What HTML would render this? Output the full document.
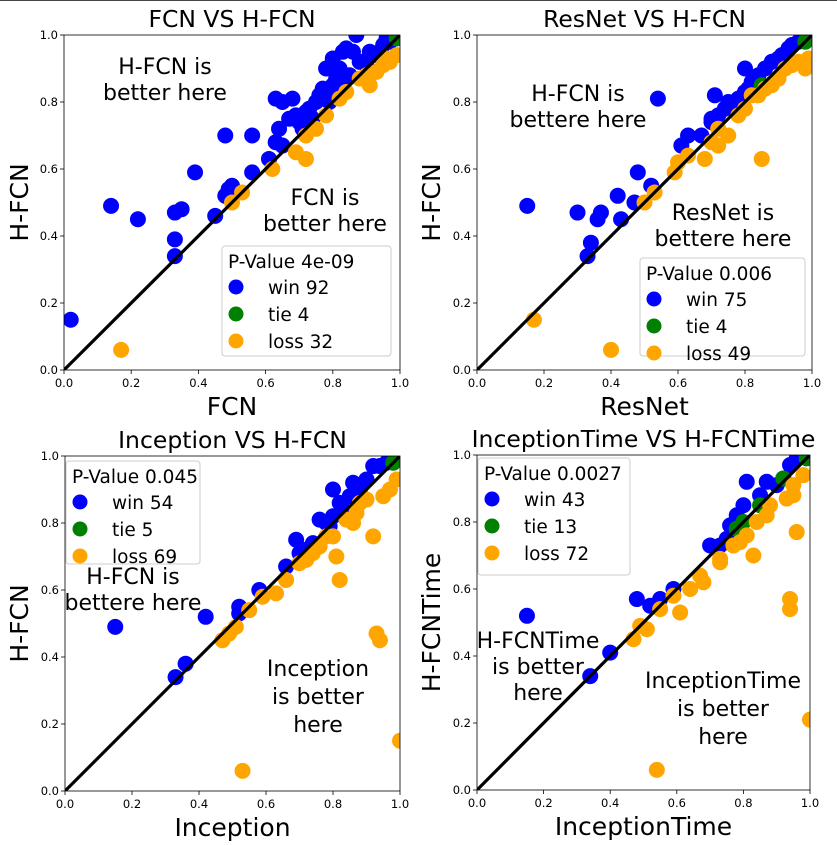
<!DOCTYPE html>
<html><head><meta charset="utf-8"><style>
body{margin:0;background:#fff}
svg{display:block;font-family:"DejaVu Sans","Liberation Sans",sans-serif}
</style></head><body>
<svg id="fig" width="837" height="845" viewBox="0 0 837 845" xmlns="http://www.w3.org/2000/svg"></svg>
<script>
// ---- data: plot 1 FCN vs H-FCN ----
const p1WinX=[0.02,0.14,0.22,0.33,0.33,0.33,0.35,0.39,0.45,0.48,0.49,0.5,0.48,0.56,0.56,0.61,0.63,0.64,0.65,0.63,0.65,0.68,0.67,0.69,0.70,0.71,0.72,0.74,0.75,0.76,0.77,0.78,0.79,0.80,0.78,0.80,0.82,0.83,0.84,0.86,0.87,0.88,0.90,0.91,0.92,0.94,0.95,0.96,0.97,0.98,0.99,0.81,0.83,0.85,0.73];
const p1WinY=[0.15,0.49,0.45,0.39,0.34,0.47,0.48,0.59,0.46,0.52,0.54,0.55,0.70,0.70,0.59,0.63,0.68,0.72,0.67,0.81,0.80,0.81,0.75,0.76,0.74,0.72,0.77,0.75,0.80,0.82,0.84,0.83,0.80,0.85,0.90,0.93,0.90,0.95,0.96,0.95,1.0,0.92,0.91,0.95,0.94,0.95,0.97,0.99,0.98,1.0,0.99,0.87,0.86,0.88,0.78];
const p1LossX=[0.17,0.5,0.53,0.62,0.69,0.72,0.72,0.75,0.78,0.82,0.84,0.88,0.91,0.93,0.95,0.97,0.99,0.90,0.96];
const p1LossY=[0.06,0.5,0.53,0.60,0.65,0.63,0.70,0.72,0.76,0.81,0.83,0.87,0.85,0.89,0.91,0.92,0.94,0.88,0.93];
const p1TieX=[0.99,1.0];
const p1TieY=[0.99,1.0];
// ---- plot 2 ResNet vs H-FCN ----
const p2WinX=[0.15,0.30,0.33,0.34,0.36,0.37,0.42,0.43,0.47,0.48,0.52,0.54,0.61,0.63,0.67,0.70,0.71,0.72,0.74,0.76,0.77,0.78,0.80,0.81,0.82,0.80,0.84,0.86,0.88,0.90,0.91,0.93,0.94,0.96,0.97,0.98,0.70,0.75];
const p2WinY=[0.49,0.47,0.34,0.38,0.45,0.47,0.52,0.45,0.50,0.59,0.55,0.81,0.67,0.70,0.70,0.74,0.82,0.76,0.78,0.79,0.80,0.81,0.83,0.84,0.86,0.90,0.88,0.90,0.92,0.93,0.94,0.96,0.97,0.98,0.99,1.0,0.75,0.80];
const p2LossX=[0.17,0.40,0.50,0.53,0.59,0.60,0.63,0.68,0.70,0.72,0.72,0.75,0.78,0.80,0.85,0.84,0.86,0.88,0.90,0.92,0.94,0.96,0.98,0.99,0.82];
const p2LossY=[0.15,0.06,0.50,0.53,0.59,0.62,0.64,0.63,0.68,0.67,0.72,0.70,0.76,0.78,0.63,0.82,0.84,0.85,0.87,0.90,0.91,0.92,0.90,0.93,0.82];
const p2TieX=[0.85,0.98];
const p2TieY=[0.85,0.98];
// ---- plot 3 Inception vs H-FCN ----
const p3WinX=[0.15,0.33,0.36,0.42,0.52,0.58,0.66,0.69,0.70,0.72,0.74,0.76,0.78,0.80,0.80,0.82,0.83,0.85,0.86,0.88,0.90,0.92,0.94,0.96,0.98,0.79,0.52];
const p3WinY=[0.49,0.34,0.38,0.52,0.55,0.60,0.67,0.75,0.71,0.72,0.74,0.81,0.80,0.82,0.90,0.86,0.84,0.88,0.92,0.90,0.93,0.97,0.97,0.98,1.0,0.79,0.53];
const p3LossX=[0.47,0.49,0.51,0.53,0.55,0.59,0.63,0.66,0.70,0.72,0.74,0.76,0.78,0.80,0.81,0.82,0.86,0.87,0.90,0.92,0.93,0.94,0.95,0.97,0.99,1.0,0.88,0.84];
const p3LossY=[0.45,0.47,0.49,0.06,0.54,0.58,0.59,0.63,0.68,0.69,0.71,0.73,0.76,0.76,0.70,0.63,0.80,0.83,0.87,0.76,0.47,0.45,0.88,0.90,0.93,0.15,0.86,0.81];
const p3TieX=[0.98,0.99];
const p3TieY=[0.98,0.99];
// ---- plot 4 InceptionTime vs H-FCNTime ----
const p4WinX=[0.15,0.40,0.34,0.48,0.52,0.55,0.59,0.70,0.73,0.75,0.76,0.80,0.81,0.85,0.87,0.90,0.94,0.96,0.78,0.92];
const p4WinY=[0.52,0.41,0.34,0.57,0.55,0.57,0.60,0.73,0.73,0.75,0.79,0.85,0.92,0.88,0.92,0.91,0.97,0.99,0.82,0.93];
const p4LossX=[0.47,0.49,0.51,0.55,0.59,0.61,0.64,0.67,0.68,0.73,0.73,0.77,0.79,0.83,0.81,0.84,0.87,0.88,0.93,0.95,0.96,0.94,0.94,1.0,0.54,0.98,0.95];
const p4LossY=[0.45,0.49,0.48,0.54,0.58,0.53,0.60,0.64,0.62,0.69,0.68,0.73,0.74,0.70,0.76,0.80,0.82,0.85,0.87,0.88,0.77,0.57,0.54,0.21,0.06,0.94,0.91];
const p4TieX=[0.78,0.80,0.85,0.92,0.99];
const p4TieY=[0.78,0.80,0.85,0.93,0.99];
const tickLabels=["0.0","0.2","0.4","0.6","0.8","1.0"];
const tickValues=[0,0.2,0.4,0.6,0.8,1.0];

const NS="http://www.w3.org/2000/svg";
const fig=document.getElementById('fig');
function mk(tag,attrs,parent,txt){const e=document.createElementNS(NS,tag);for(const k in attrs)e.setAttribute(k,attrs[k]);if(txt!==undefined)e.textContent=txt;(parent||fig).appendChild(e);return e;}

mk('line',{x1:0,x2:837,y1:0.5,y2:0.5,stroke:'#444','stroke-width':1});

function plot(cfg){
  const g=mk('g',{});
  
  
  const L=cfg.x0,R=cfg.x1,T=cfg.y0,B=cfg.y1;
  const sx=v=>L+v*(R-L), sy=v=>B-v*(B-T);
  const t=mk('text',{x:(L+R)/2,y:T-8,'text-anchor':'middle','font-size':23.5},g,cfg.title);
  
  tickValues.forEach((v,i)=>{
    mk('line',{x1:sx(v),x2:sx(v),y1:B,y2:B+4,stroke:'#000','stroke-width':0.8},g);
    const xt=mk('text',{x:sx(v),y:B+17,'text-anchor':'middle','font-size':11.5},g,tickLabels[i]);
    
    mk('line',{x1:L-4,x2:L,y1:sy(v),y2:sy(v),stroke:'#000','stroke-width':0.8},g);
    const yt=mk('text',{x:L-6,y:sy(v)+4,'text-anchor':'end','font-size':11.5},g,tickLabels[i]);
    
  });
  const xl=mk('text',{x:(L+R)/2,y:B+45,'text-anchor':'middle','font-size':25},g,cfg.xlabel);
  
  const yc=(T+B)/2;
  const yl=mk('text',{x:cfg.ylx,y:yc,'text-anchor':'middle','font-size':25,transform:`rotate(-90 ${cfg.ylx} ${yc})`},g,cfg.ylabel);
  
  const cid='c'+cfg.name;
  const cp=mk('clipPath',{id:cid},g);mk('rect',{x:L,y:T,width:R-L,height:B-T},cp);
  const pg=mk('g',{'clip-path':`url(#${cid})`},g);
  const series=[[cfg.winX,cfg.winY,'#0000ff','win-point'],[cfg.tieX,cfg.tieY,'#008000','tie-point'],[cfg.lossX,cfg.lossY,'#ffa500','loss-point']];
  series.forEach(s=>{
    s[0].forEach((xv,i)=>{
      const c=mk('circle',{cx:sx(xv),cy:sy(s[1][i]),r:8,fill:s[2]},pg);
      
      
    });
  });
  const dl=mk('line',{x1:sx(0),y1:sy(0),x2:sx(1),y2:sy(1),stroke:'#000','stroke-width':3.2},pg);
  
  mk('rect',{x:L,y:T,width:R-L,height:B-T,fill:'none',stroke:'#000','stroke-width':0.8},g);
  cfg.notes.forEach(n=>{
    n.lines.forEach((ln,i)=>{
      const a=mk('text',{x:n.x,y:n.y+i*n.dy,'text-anchor':'middle','font-size':22},g,ln);
      
    });
  });
  const lg=cfg.leg;
  const lgg=mk('g',{},g);
  
  mk('rect',{x:lg.x,y:lg.y,width:lg.w,height:lg.h,rx:3,fill:'#fff','fill-opacity':0.85,stroke:'#ccc'},lgg);
  mk('text',{x:lg.x+6,y:lg.y+22,'font-size':18.5},lgg,lg.title);
  const ent=[['#0000ff',lg.win],['#008000',lg.tie],['#ffa500',lg.loss]];
  ent.forEach((e,i)=>{
    const cy=lg.y+41+i*27;
    const c=mk('circle',{cx:lg.x+14,cy:cy,r:7.5,fill:e[0]},lgg);
    
    const tt=mk('text',{x:lg.x+46,y:cy+7,'font-size':18.5},lgg,e[1]);
    
  });
}

plot({name:'fcn-vs-hfcn',x0:64,x1:400,y0:35,y1:370,title:'FCN VS H-FCN',xlabel:'FCN',ylabel:'H-FCN',ylx:28,
  winX:p1WinX,winY:p1WinY,lossX:p1LossX,lossY:p1LossY,tieX:p1TieX,tieY:p1TieY,
  notes:[{x:165,y:74,dy:26,lines:['H-FCN is','better here']},{x:325,y:205,dy:26,lines:['FCN is','better here']}],
  leg:{x:222,y:246,w:169,h:110,title:'P-Value 4e-09',win:'win 92',tie:'tie 4',loss:'loss 32'}});
plot({name:'resnet-vs-hfcn',x0:477,x1:812,y0:35,y1:370,title:'ResNet VS H-FCN',xlabel:'ResNet',ylabel:'H-FCN',ylx:440,
  winX:p2WinX,winY:p2WinY,lossX:p2LossX,lossY:p2LossY,tieX:p2TieX,tieY:p2TieY,
  notes:[{x:578,y:101,dy:26,lines:['H-FCN is','bettere here']},{x:723,y:220,dy:26,lines:['ResNet is','bettere here']}],
  leg:{x:640,y:258,w:165,h:98,title:'P-Value 0.006',win:'win 75',tie:'tie 4',loss:'loss 49'}});
plot({name:'inception-vs-hfcn',x0:65,x1:400,y0:456,y1:791,title:'Inception VS H-FCN',xlabel:'Inception',ylabel:'H-FCN',ylx:28,
  winX:p3WinX,winY:p3WinY,lossX:p3LossX,lossY:p3LossY,tieX:p3TieX,tieY:p3TieY,
  notes:[{x:133,y:584,dy:26,lines:['H-FCN is','bettere here']},{x:318,y:676,dy:28,lines:['Inception','is better','here']}],
  leg:{x:66,y:461,w:134,h:103,title:'P-Value 0.045',win:'win 54',tie:'tie 5',loss:'loss 69'}});
plot({name:'inceptiontime-vs-hfcntime',x0:477,x1:810,y0:455,y1:790,title:'InceptionTime VS H-FCNTime',xlabel:'InceptionTime',ylabel:'H-FCNTime',ylx:440,
  winX:p4WinX,winY:p4WinY,lossX:p4LossX,lossY:p4LossY,tieX:p4TieX,tieY:p4TieY,
  notes:[{x:538,y:648,dy:26,lines:['H-FCNTime','is better','here']},{x:723,y:688,dy:28,lines:['InceptionTime','is better','here']}],
  leg:{x:478,y:458,w:152,h:117,title:'P-Value 0.0027',win:'win 43',tie:'tie 13',loss:'loss 72'}});
</script>
</body></html>
